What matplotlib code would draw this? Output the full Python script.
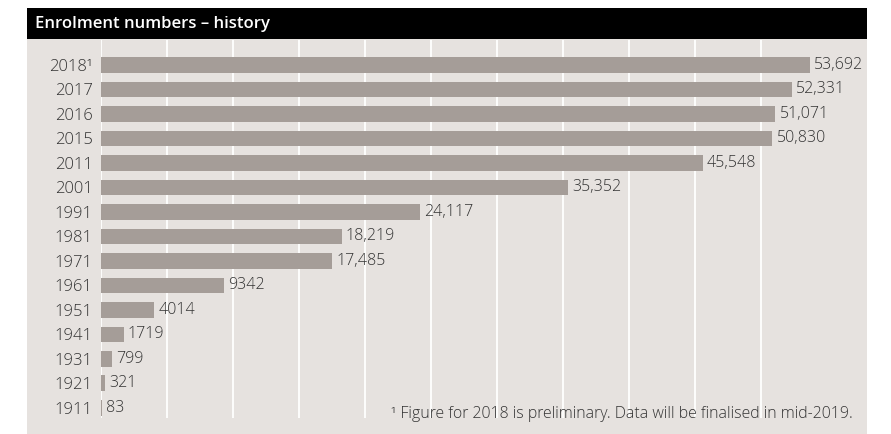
import matplotlib.pyplot as plt
from matplotlib.patches import Rectangle

years = ["2018¹", "2017", "2016", "2015", "2011", "2001", "1991", "1981",
         "1971", "1961", "1951", "1941", "1931", "1921", "1911"]
enrolments = [53692, 52331, 51071, 50830, 45548, 35352, 24117, 18219,
              17485, 9342, 4014, 1719, 799, 321, 83]
title = "Enrolment numbers – history"
footnote = "¹ Figure for 2018 is preliminary. Data will be finalised in mid-2019."

PANEL = "#e6e2df"
BAR = "#a59d98"
TEXT = "#333333"

plt.rcParams["font.family"] = ["Open Sans", "DejaVu Sans"]

W, H = 891, 434
fig = plt.figure(figsize=(W / 100, H / 100), dpi=100)
fig.patch.set_facecolor("white")


def fx(px):
    return px / W


def fy(py):
    return 1 - py / H


# background panel and title bar
fig.patches.append(Rectangle((fx(27), 0), fx(840), fy(39), transform=fig.transFigure,
                             facecolor=PANEL, edgecolor="none", zorder=-10))
fig.patches.append(Rectangle((fx(27), fy(39)), fx(840), (39 - 8) / H, transform=fig.transFigure,
                             facecolor="black", edgecolor="none", zorder=-10))
fig.text(fx(35), fy(24), title, color="white", fontsize=12, fontweight="semibold",
         va="center", ha="left")

ax = fig.add_axes([fx(101), fy(418), fx(867 - 101), (418 - 40) / H])
ax.set_facecolor("none")

pos = list(range(len(years)))
ax.barh(pos, enrolments, height=0.65, color=BAR, zorder=3)

for p, v in zip(pos, enrolments):
    label = f"{v:,}" if v >= 10000 else str(v)
    ax.annotate(label, (v, p), xytext=(3, 0), textcoords="offset points",
                va="center", ha="left", fontsize=11.5, fontweight="light",
                color=TEXT, zorder=4)

ax.set_xlim(0, 58000)
ax.set_ylim(14.41, -1.02)
ax.set_xticks(range(0, 55000, 5000))
ax.set_xticklabels([])
ax.grid(axis="x", color="white", linewidth=1.3, zorder=1)
ax.set_axisbelow(True)
ax.set_yticks(pos)
ax.set_yticklabels(years, fontsize=12, fontweight="light", color=TEXT)
ax.tick_params(axis="both", length=0, pad=6)
for s in ax.spines.values():
    s.set_visible(False)

fig.text(fx(853), fy(414), footnote, fontsize=11.4, fontweight="light",
         color=TEXT, ha="right", va="center")

fig.savefig("out.png", dpi=100)
